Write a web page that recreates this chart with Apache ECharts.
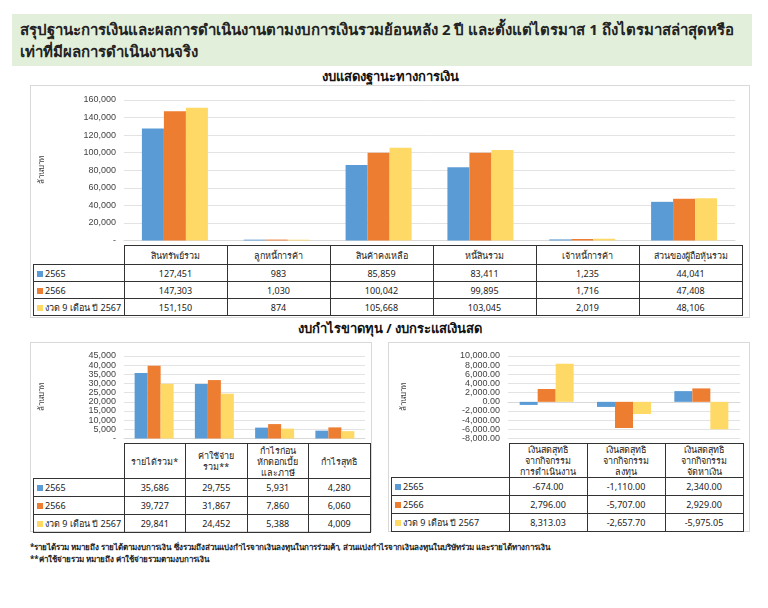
<!DOCTYPE html>
<html><head><meta charset="utf-8">
<script src="https://cdn.jsdelivr.net/npm/echarts@6/dist/echarts.min.js"></script>
<style>
body{margin:0;width:768px;height:608px;background:#fff;font-family:"Noto Sans","Noto Sans CJK SC",sans-serif;position:relative;overflow:hidden}
.abs{position:absolute}
.panel{position:absolute;border:1px solid #d9d9d9;box-sizing:border-box}
table{border-collapse:collapse;font-size:9px;color:#222;table-layout:fixed}
td{border:1px solid #333;text-align:center;padding:0;line-height:11px}
td.lab{text-align:left;padding-left:3px;white-space:nowrap}
.sw{display:inline-block;width:6px;height:6px;margin-right:2px}
.sub{position:absolute;font-size:13px;font-weight:bold;color:#111;text-align:center}
</style></head><body>
<div class="abs" style="left:12px;top:14px;width:740px;height:52px;background:#e2efda;font-size:15px;font-weight:bold;color:#222;line-height:22px;padding:4px 8px;box-sizing:border-box">สรุปฐานะการเงินและผลการดำเนินงานตามงบการเงินรวมย้อนหลัง 2 ปี และตั้งแต่ไตรมาส 1 ถึงไตรมาสล่าสุดหรือเท่าที่มีผลการดำเนินงานจริง</div>
<div class="sub" style="left:30px;top:66px;width:720px">งบแสดงฐานะทางการเงิน</div>
<div class="panel" style="left:30px;top:85px;width:720px;height:233px"></div>
<div class="sub" style="left:30px;top:318px;width:720px">งบกำไรขาดทุน / งบกระแสเงินสด</div>
<div class="panel" style="left:30px;top:342px;width:342px;height:190px"></div>
<div class="panel" style="left:388px;top:342px;width:362px;height:190px"></div>
<div id="c1" class="abs" style="left:30px;top:85px;width:720px;height:160px"></div>
<div id="c2" class="abs" style="left:30px;top:342px;width:342px;height:101px"></div>
<div id="c3" class="abs" style="left:388px;top:342px;width:362px;height:101px"></div>
<div id="t1" class="abs" style="left:33px;top:245px"></div>
<div id="t2" class="abs" style="left:33px;top:443px"></div>
<div id="t3" class="abs" style="left:391px;top:443px"></div>
<div class="abs" style="left:30px;top:541px;font-size:8px;font-weight:bold;line-height:12px;color:#222">*รายได้รวม หมายถึง รายได้ตามงบการเงิน ซึ่งรวมถึงส่วนแบ่งกำไรจากเงินลงทุนในการร่วมค้า, ส่วนแบ่งกำไรจากเงินลงทุนในบริษัทร่วม และรายได้ทางการเงิน<br>**ค่าใช้จ่ายรวม หมายถึง ค่าใช้จ่ายรวมตามงบการเงิน</div>
<script>
var seriesNames = ['2565', '2566', 'งวด 9 เดือน ปี 2567'];
var colors = ['#5b9bd5', '#ed7d31', '#ffd966'];

var balCats = ['สินทรัพย์รวม', 'ลูกหนี้การค้า', 'สินค้าคงเหลือ', 'หนี้สินรวม', 'เจ้าหนี้การค้า', 'ส่วนของผู้ถือหุ้นรวม'];
var bal2565 = [127451, 983, 85859, 83411, 1235, 44041];
var bal2566 = [147303, 1030, 100042, 99895, 1716, 47408];
var bal2567 = [151150, 874, 105668, 103045, 2019, 48106];

var plCats = ['รายได้รวม*', 'ค่าใช้จ่าย<br>รวม**', 'กำไรก่อน<br>หักดอกเบี้ย<br>และภาษี', 'กำไรสุทธิ'];
var pl2565 = [35686, 29755, 5931, 4280];
var pl2566 = [39727, 31867, 7860, 6060];
var pl2567 = [29841, 24452, 5388, 4009];

var cfCats = ['เงินสดสุทธิ<br>จากกิจกรรม<br>การดำเนินงาน', 'เงินสดสุทธิ<br>จากกิจกรรม<br>ลงทุน', 'เงินสดสุทธิ<br>จากกิจกรรม<br>จัดหาเงิน'];
var cf2565 = [-674.00, -1110.00, 2340.00];
var cf2566 = [2796.00, -5707.00, 2929.00];
var cf2567 = [8313.03, -2657.70, -5975.05];

function fmt(v, d) {
  return v.toLocaleString('en-US', {minimumFractionDigits: d, maximumFractionDigits: d});
}

function makeChart(id, cats, data, grid, yopt, barW) {
  var ch = echarts.init(document.getElementById(id));
  ch.setOption({
    animation: false,
    grid: grid,
    xAxis: {type: 'category', data: cats, axisLabel: {show: false}, axisTick: {show: false},
      axisLine: {show: true, onZero: true, lineStyle: {color: '#d9d9d9'}}},
    yAxis: Object.assign({type: 'value', name: 'ล้านบาท', nameLocation: 'middle', nameRotate: 90,
      nameTextStyle: {fontSize: 8, color: '#444'},
      axisLabel: {fontSize: 9, color: '#444'},
      splitLine: {lineStyle: {color: '#e3e3e3'}}}, yopt),
    series: data.map(function (d, i) {
      return {type: 'bar', name: seriesNames[i], data: d, barWidth: barW, barGap: '0%',
        itemStyle: {color: colors[i]}};
    })
  });
}

makeChart('c1', balCats, [bal2565, bal2566, bal2567],
  {left: 93, right: 15, top: 15, bottom: 0},
  {min: 0, max: 160000, interval: 20000, nameGap: 78,
   axisLabel: {fontSize: 9, color: '#444', formatter: function (v) { return v === 0 ? '-' : fmt(v, 0); }}}, 22);
makeChart('c2', plCats, [pl2565, pl2566, pl2567],
  {left: 93, right: 7, top: 14, bottom: 0},
  {min: 0, max: 45000, interval: 5000, nameGap: 78,
   axisLabel: {fontSize: 9, color: '#444', formatter: function (v) { return v === 0 ? '-' : fmt(v, 0); }}}, 13);
makeChart('c3', cfCats, [cf2565, cf2566, cf2567],
  {left: 120, right: 10, top: 14, bottom: 0},
  {min: -8000, max: 10000, interval: 2000, nameGap: 100,
   axisLabel: {fontSize: 9, color: '#444', formatter: function (v) { return fmt(v, 2); }}}, 18);

function makeTable(id, cats, data, firstW, colW, headH, rowH, dec) {
  var h = '<table style="width:' + (firstW + colW * cats.length) + 'px"><tr style="height:' + headH + 'px"><td style="width:' + firstW + 'px;border:none;border-right:1px solid #333"></td>';
  cats.forEach(function (c) { h += '<td style="width:' + colW + 'px">' + c + '</td>'; });
  h += '</tr>';
  data.forEach(function (d, i) {
    h += '<tr style="height:' + rowH + 'px"><td class="lab"><span class="sw" style="background:' + colors[i] + '"></span>' + seriesNames[i] + '</td>';
    d.forEach(function (v) { h += '<td>' + fmt(v, dec) + '</td>'; });
    h += '</tr>';
  });
  document.getElementById(id).innerHTML = h + '</table>';
}
makeTable('t1', balCats, [bal2565, bal2566, bal2567], 90, 102, 19, 17, 0);
makeTable('t2', plCats, [pl2565, pl2566, pl2567], 90, 60.5, 35, 18, 0);
makeTable('t3', cfCats, [cf2565, cf2566, cf2567], 117, 77, 33, 18, 2);
</script>
</body></html>
